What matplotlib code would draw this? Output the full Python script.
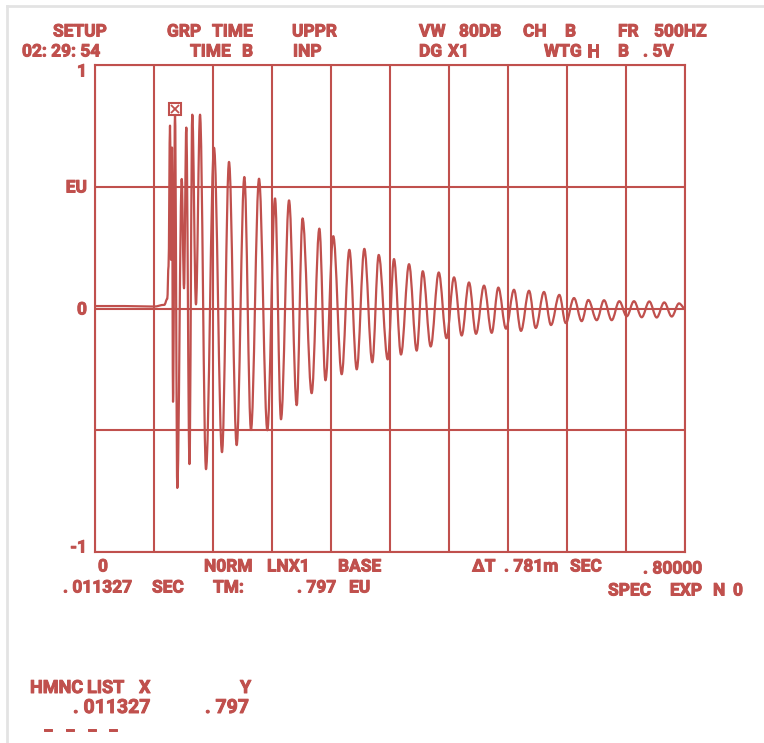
import matplotlib
matplotlib.use('Agg')
import matplotlib.pyplot as plt
import matplotlib.transforms as mtransforms
import matplotlib.patheffects as pe
from matplotlib.path import Path
from matplotlib.patches import PathPatch
from matplotlib.lines import Line2D

RED = '#c0504d'
plt.rcParams['font.family'] = ['Roboto', 'DejaVu Sans']
plt.rcParams['font.weight'] = 'bold'

# flat part before the hit (time, EU)
base_t = [0.0, 0.040, 0.080, 0.094, 0.098]
base_v = [0.010, 0.010, 0.008, 0.015, 0.040]

# turning points of the ringing
ext_t = [0.0997, 0.1017, 0.1031, 0.1044, 0.1058, 0.1085, 0.1116, 0.1176, 0.1207, 0.1238,
         0.1281, 0.1319, 0.1369, 0.1424, 0.1505, 0.1614, 0.1722, 0.1817, 0.1921, 0.2025,
         0.2115, 0.2224, 0.2337, 0.2441, 0.2522, 0.2631, 0.2735, 0.2814, 0.2938, 0.3042,
         0.3125, 0.3231, 0.3345, 0.3449, 0.3549, 0.3652, 0.3760, 0.3847, 0.3969, 0.4054,
         0.4149, 0.4258, 0.4362, 0.4444, 0.4552, 0.4661, 0.4766, 0.4868, 0.4972, 0.5071,
         0.5166, 0.5275, 0.5379, 0.5469, 0.5573, 0.5681, 0.5776, 0.5885, 0.5976, 0.6088,
         0.6183, 0.6296, 0.6383, 0.6495, 0.6599, 0.6689, 0.6803, 0.6902, 0.7006, 0.7109,
         0.7210, 0.7308, 0.7413, 0.7516, 0.7616, 0.7719, 0.7820, 0.7919, 0.8000]
ext_v = [0.174, 0.751, 0.200, 0.661, -0.383, 0.797, -0.737, 0.532, 0.083, 0.743,
         -0.639, 0.796, 0.017, 0.796, -0.660, 0.660, -0.590, 0.602, -0.561, 0.540,
         -0.499, 0.533, -0.500, 0.452, -0.455, 0.444, -0.397, 0.370, -0.348, 0.328,
         -0.295, 0.297, -0.270, 0.241, -0.250, 0.245, -0.221, 0.220, -0.209, 0.203,
         -0.189, 0.182, -0.173, 0.153, -0.156, 0.148, -0.122, 0.128, -0.111, 0.107,
         -0.104, 0.094, -0.100, 0.086, -0.083, 0.077, -0.092, 0.073, -0.080, 0.068,
         -0.068, 0.056, -0.060, 0.043, -0.052, 0.035, -0.048, 0.034, -0.048, 0.030,
         -0.032, 0.030, -0.036, 0.029, -0.037, 0.025, -0.033, 0.021, 0.000]

grid_x = [0.08 * i for i in range(11)]
grid_y = [-1, -0.5, 0, 0.5, 1]

W, H = 764, 743
fig = plt.figure(figsize=(W / 100, H / 100), dpi=100)
ax = fig.add_axes([95 / W, 1 - 552 / H, 590 / W, 487 / H])
ax.set_xlim(0, 0.8)
ax.set_ylim(-1, 1)
ax.set_xticks(grid_x)
ax.set_yticks(grid_y)
ax.tick_params(length=0, labelbottom=False, labelleft=False)
ax.grid(True, color=RED, lw=1.5)
for s in ax.spines.values():
    s.set_color(RED)
    s.set_linewidth(1.5)

# trace: smooth half-cycles between the turning points
t = base_t + ext_t
v = base_v + ext_v
verts = [(t[0], v[0])]
codes = [Path.MOVETO]
k = 0.36
for i in range(1, len(t)):
    dx = t[i] - t[i - 1]
    verts += [(t[i - 1] + k * dx, v[i - 1]), (t[i] - k * dx, v[i]), (t[i], v[i])]
    codes += [Path.CURVE4] * 3
ax.add_patch(PathPatch(Path(verts, codes), fill=False, edgecolor=RED, lw=1.6,
                       capstyle='round', joinstyle='round'))

# cursor box on the maximum
imax = ext_v.index(max(ext_v))
tr = mtransforms.offset_copy(ax.transData, fig=fig, x=0, y=5, units='dots')
ax.plot(ext_t[imax], ext_v[imax], marker='s', ms=9, mfc='white', mec=RED, mew=1.5,
        transform=tr, clip_on=False)
ax.plot(ext_t[imax], ext_v[imax], marker='x', ms=6, mec=RED, mew=1.3,
        transform=tr, clip_on=False)

# screenshot border
fig.add_artist(Line2D([7 / W, 7 / W], [0, 1 - 6 / H], color='#e3e3e3', lw=2))
fig.add_artist(Line2D([7 / W, 1], [1 - 6 / H, 1 - 6 / H], color='#e3e3e3', lw=2))

thick = [pe.withStroke(linewidth=0.7, foreground=RED)]


def put(x, y, s, ha='left', size=12.5):
    fig.text(x / W, 1 - y / H, s, ha=ha, va='center', color=RED, fontsize=size,
             fontweight='bold', path_effects=thick)


# header
for x, s in [(53, 'SETUP'), (167, 'GRP'), (212, 'TIME'), (292, 'UPPR'), (419, 'VW'),
             (459, '80DB'), (523, 'CH'), (565, 'B'), (618, 'FR'), (654, '500HZ')]:
    put(x, 32, s)
for x, s in [(22, '02: 29: 54'), (190, 'TIME'), (242, 'B'), (293, 'INP'), (419, 'DG'),
             (448, 'X1'), (544, 'WTG'), (587, 'H'), (618, 'B'), (643, '. 5V')]:
    put(x, 52, s)

# y labels
for y, s in [(72, '1'), (188, 'EU'), (310, '0'), (548, '-1')]:
    put(87, y, s, ha='right')

# footer under the screen
for x, s in [(98, '0'), (204, 'N0RM'), (267, 'LNX1'), (338, 'BASE'), (472, 'ΔT'),
             (504, '. 781m'), (570, 'SEC')]:
    put(x, 567, s)
put(643, 569, '. 80000')
for x, s in [(63, '. 011327'), (152, 'SEC'), (213, 'TM:'), (297, '. 797'), (349, 'EU')]:
    put(x, 588, s)
for x, s in [(608, 'SPEC'), (670, 'EXP'), (713, 'N'), (733, '0')]:
    put(x, 591, s)

# harmonic list
for x, s in [(30, 'HMNC'), (87, 'LIST'), (139, 'X'), (240, 'Y')]:
    put(x, 688, s, size=13)
put(73, 708, '. 011327', size=14)
put(205, 708, '. 797', size=14)
for x in [43, 65, 87, 108]:
    put(x, 731, '–', size=11)

fig.savefig('out.png', dpi=100)
